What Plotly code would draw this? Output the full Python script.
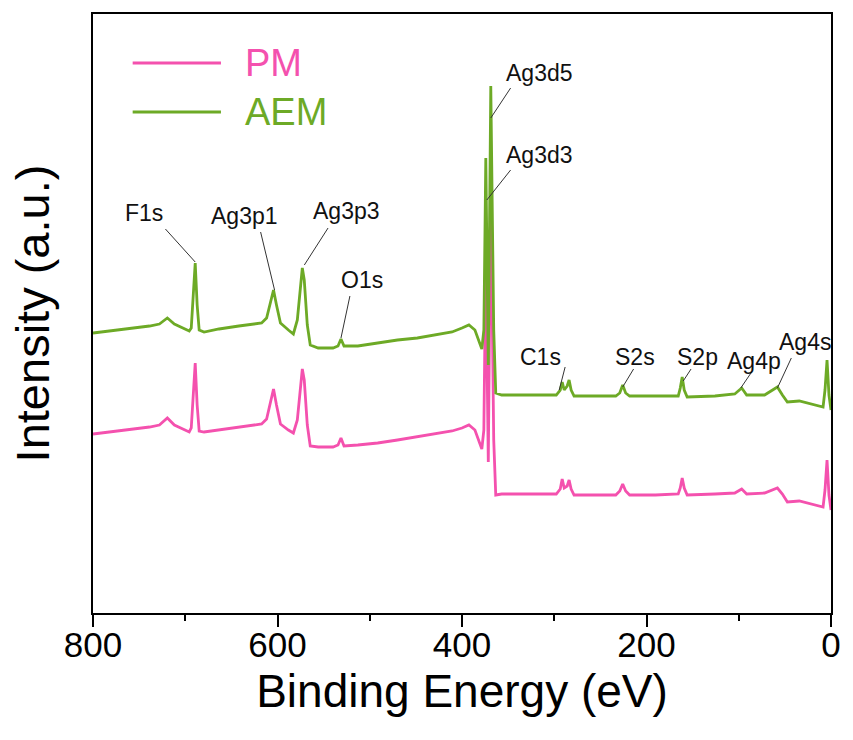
import plotly.graph_objects as go

# Binding energy (eV) sample points shared by both spectra
energy = [800.0, 781.7, 760.2, 738.7, 728.0, 719.4, 711.8, 701.1, 695.7, 693.5, 691.4, 689.2, 687.1, 684.9,
          679.6, 663.4, 641.9, 617.2, 611.8, 607.5, 604.3, 601.1, 596.8, 588.2, 582.8, 578.5, 575.3, 573.1,
          571.0, 567.7, 564.5, 555.9, 539.8, 534.4, 531.2, 527.9, 512.9, 491.4, 469.9, 448.4, 426.9, 410.8,
          400.0, 392.5, 386.0, 380.6, 378.5, 376.3, 374.2, 371.5, 368.8, 365.6, 363.4, 357.0, 319.4, 297.8,
          293.5, 291.4, 289.2, 286.0, 283.9, 281.7, 278.5, 254.8, 233.3, 229.0, 225.8, 222.6, 218.3, 190.3,
          165.6, 163.4, 161.3, 159.1, 155.9, 125.8, 104.3, 96.8, 91.4, 72.0, 63.4, 58.1, 52.7, 47.3, 34.4,
          20.4, 8.6, 6.5, 4.3, 2.2, 0.0]

# PM spectrum (a.u.)
pm_intensity = [179, 181, 183, 186, 188, 195, 188, 183, 181, 185, 213, 250, 208, 182,
                181, 183, 186, 189, 194, 213, 224, 208, 189, 183, 180, 193, 228, 244,
                233, 188, 167, 166, 166, 168, 175, 167, 168, 170, 173, 176, 179, 182,
                185, 188, 183, 168, 164, 183, 355, 151, 423, 173, 118, 119, 119, 119,
                124, 134, 125, 127, 133, 124, 118, 118, 118, 122, 129, 122, 118, 118,
                119, 125, 135, 125, 118, 119, 120, 124, 119, 120, 123, 125, 119, 111, 112,
                109, 106, 123, 153, 118, 103]

# AEM spectrum (a.u.)
aem_intensity = [280, 282, 284, 287, 289, 295, 289, 284, 282, 285, 313, 350, 308, 283,
                 281, 284, 287, 290, 295, 313, 323, 308, 290, 283, 279, 293, 328, 345,
                 333, 288, 268, 265, 265, 267, 274, 267, 267, 270, 273, 275, 278, 281,
                 285, 288, 283, 268, 264, 283, 455, 248, 527, 283, 220, 218, 218, 218,
                 223, 231, 223, 227, 233, 223, 217, 217, 217, 220, 228, 220, 217, 217,
                 217, 225, 236, 223, 216, 217, 219, 225, 218, 218, 223, 226, 218, 211, 212,
                 209, 206, 223, 253, 218, 203]

series_names = ["PM", "AEM"]
series_colors = ["#F451AE", "#6DAA26"]

# Peak labels
peak_labels = ["F1s", "Ag3p1", "Ag3p3", "O1s", "Ag3d5", "Ag3d3", "C1s", "S2s", "S2p", "Ag4p", "Ag4s"]
label_x = [745.2, 635.5, 524.7, 508.5, 316.0, 316.0, 315.0, 212.9, 145.2, 83.8, 28.0]
label_y = [400, 397, 402, 333, 540, 458, 256, 256, 256, 252, 271]
leader_x0 = [721.5, 618.3, 545.2, 521.5, 347.3, 347.3, 288.2, 214.0, 151.7, 86.0, 43.0]
leader_y0 = [384, 381, 385, 317, 525, 443, 246, 244, 244, 241, 255]
leader_x1 = [689.2, 603.2, 570.9, 531.2, 368.8, 373.1, 294.6, 225.8, 160.2, 97.8, 58.1]
leader_y1 = [351, 323, 348, 275, 495, 413, 223, 226, 232, 225, 225]

# Legend placement (data units)
legend_line_x = [757.0, 661.3]
legend_y = [550, 501]
legend_text_x = 637.6

FONT = "Arial, Liberation Sans, sans-serif"

fig = go.Figure()
for name, col, vals in zip(series_names, series_colors, [pm_intensity, aem_intensity]):
    fig.add_trace(go.Scatter(x=energy, y=vals, mode="lines", name=name,
                             line=dict(color=col, width=2.8), showlegend=False))

shapes = []
annotations = []
for lab, tx, ty, x0, y0, x1, y1 in zip(peak_labels, label_x, label_y, leader_x0, leader_y0, leader_x1, leader_y1):
    shapes.append(dict(type="line", xref="x", yref="y", x0=x0, y0=y0, x1=x1, y1=y1,
                       line=dict(color="#333333", width=1)))
    annotations.append(dict(x=tx, y=ty, xref="x", yref="y", text=lab, showarrow=False,
                            font=dict(family=FONT, size=23, color="#111111"),
                            xanchor="center", yanchor="middle"))

for name, col, ly in zip(series_names, series_colors, legend_y):
    shapes.append(dict(type="line", xref="x", yref="y", x0=legend_line_x[0], x1=legend_line_x[1],
                       y0=ly, y1=ly, line=dict(color=col, width=2.8)))
    annotations.append(dict(x=legend_text_x, y=ly, xref="x", yref="y", text=name, showarrow=False,
                            font=dict(family=FONT, size=38, color=col),
                            xanchor="left", yanchor="middle"))

fig.update_layout(
    width=853, height=740,
    margin=dict(l=93, r=16, t=14, b=127),
    plot_bgcolor="white", paper_bgcolor="white",
    shapes=shapes, annotations=annotations,
    font=dict(family=FONT, color="black"),
)
fig.update_xaxes(
    range=[800, 0], tickvals=[800, 600, 400, 200, 0],
    ticks="outside", ticklen=12, tickwidth=2, tickcolor="black",
    ticklabelstandoff=-12,
    minor=dict(tickvals=[700, 500, 300, 100], ticks="outside", ticklen=6, tickwidth=2, tickcolor="black"),
    showline=True, linecolor="black", linewidth=2, mirror=True,
    showgrid=False, zeroline=False,
    tickfont=dict(family=FONT, size=35, color="black"),
    title=dict(text="Binding Energy (eV)", font=dict(family=FONT, size=46, color="black"), standoff=12),
)
fig.update_yaxes(
    range=[0, 599], showticklabels=False, ticks="",
    showline=True, linecolor="black", linewidth=2, mirror=True,
    showgrid=False, zeroline=False,
    title=dict(text="Intensity (a.u.)", font=dict(family=FONT, size=47, color="black"), standoff=27),
)

fig.write_html("out.html")
